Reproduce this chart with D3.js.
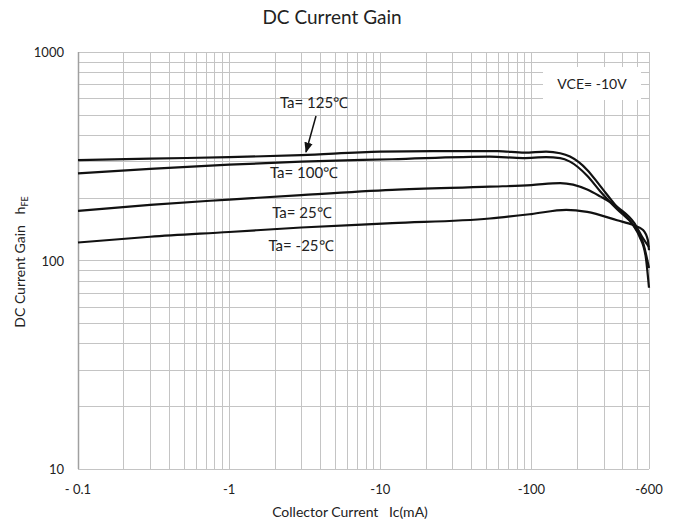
<!DOCTYPE html>
<html>
<head>
<meta charset="utf-8" />
<title>DC Current Gain</title>
<style>
  body { margin: 0; background: #fff; }
  text { font-family: Lato, "Open Sans", sans-serif; fill: #222; }
</style>
</head>
<body>
<script src="https://d3js.org/d3.v7.min.js"></script>
<script>
// collector current |Ic| in mA, and hFE read for each temperature
var ic125  = [0.1, 0.3, 1, 3, 10, 30, 60, 90, 125, 155, 180, 234, 285, 369, 471, 520, 570, 600];
var hfe125 = [303, 308, 313, 320, 333, 335, 335, 329, 333, 327, 315, 272, 228, 180, 148, 130, 105, 74];

var ic100  = [0.1, 0.3, 1, 3, 12, 53, 88, 125, 155, 180, 234, 285, 369, 471, 548, 600];
var hfe100 = [262, 275, 288, 298, 306, 315, 310, 313, 310, 298, 255, 215, 176, 148, 122, 92];

var ic25   = [0.1, 0.3, 1, 3, 12, 53, 100, 155, 234, 285, 380, 480, 540, 600];
var hfe25  = [173, 185, 196, 206, 218, 226, 230, 235, 219, 203, 178, 151, 130, 116];

var icM25  = [0.1, 0.3, 1, 3, 12, 53, 100, 170, 234, 369, 471, 548, 590, 600];
var hfeM25 = [122, 130, 137, 144, 151, 159, 167, 175, 171, 156, 148, 140, 125, 112];

var xTicks = [0.1, 1, 10, 100, 600];
var xTickLabels = ["- 0.1", "-1", "-10", "-100", "-600"];
var yTicks = [10, 100, 1000];

var series = [
  {name: "Ta= 125℃", ic: ic125, hfe: hfe125},
  {name: "Ta= 100℃", ic: ic100, hfe: hfe100},
  {name: "Ta= 25℃",  ic: ic25,  hfe: hfe25},
  {name: "Ta= -25℃", ic: icM25, hfe: hfeM25}
];

var width = 680, height = 519;
var margin = {left: 78, right: 31, top: 52, bottom: 50};

var svg = d3.select("body").append("svg")
  .attr("width", width)
  .attr("height", height);

var x = d3.scaleLog().domain([0.1, 600]).range([margin.left, width - margin.right]);
var y = d3.scaleLog().domain([10, 1000]).range([height - margin.bottom, margin.top]);

// grid lines: every 1..9 step of each decade
var xGrid = [];
[0.1, 1, 10, 100].forEach(function(d) {
  for (var k = 1; k <= 9; k++) { var v = d * k; if (v <= 600) xGrid.push(v); }
});
xGrid.push(600);
var yGrid = [];
[10, 100].forEach(function(d) {
  for (var k = 1; k <= 9; k++) yGrid.push(d * k);
});
yGrid.push(1000);

var grid = svg.append("g").attr("stroke", "#c4c4c4").attr("stroke-width", 1);
grid.selectAll("line.v").data(xGrid).enter().append("line")
  .attr("x1", d => Math.round(x(d)) + 0.5).attr("x2", d => Math.round(x(d)) + 0.5)
  .attr("y1", y(1000)).attr("y2", y(10));
grid.selectAll("line.h").data(yGrid).enter().append("line")
  .attr("y1", d => Math.round(y(d)) + 0.5).attr("y2", d => Math.round(y(d)) + 0.5)
  .attr("x1", x(0.1)).attr("x2", x(600));

// left axis line
svg.append("line")
  .attr("x1", x(0.1) + 0.5).attr("x2", x(0.1) + 0.5)
  .attr("y1", y(1000)).attr("y2", y(10))
  .attr("stroke", "#a0a0a0").attr("stroke-width", 1.5);

// VCE box (white fill over grid)
var vceBox = svg.append("g");
vceBox.append("rect")
  .attr("x", 543).attr("y", 67).attr("width", 98).attr("height", 33)
  .attr("fill", "#fff");
vceBox.append("text")
  .attr("x", 592).attr("y", 89)
  .attr("text-anchor", "middle")
  .style("font-size", "14px")
  .text("VCE= -10V");

// curves
var line = d3.line()
  .x(d => x(d[0]))
  .y(d => y(d[1]))
  .curve(d3.curveMonotoneX);

svg.append("g").selectAll("path").data(series).enter().append("path")
  .attr("d", s => line(s.ic.map((v, i) => [v, s.hfe[i]])))
  .attr("fill", "none")
  .attr("stroke", "#111")
  .attr("stroke-width", 2.2);

// temperature labels
var labelPos = [
  {x: 314, y: 108},
  {x: 304, y: 178},
  {x: 302, y: 218},
  {x: 301, y: 251}
];
var labels = svg.append("g");
series.forEach(function(s, i) {
  labels.append("text")
    .attr("x", labelPos[i].x).attr("y", labelPos[i].y)
    .attr("text-anchor", "middle")
    .style("font-size", "15px")
    .text(s.name);
});

// arrow to the 125 curve
svg.append("defs").append("marker")
  .attr("id", "arr").attr("viewBox", "0 0 10 10")
  .attr("refX", 9).attr("refY", 5)
  .attr("markerWidth", 7).attr("markerHeight", 7)
  .attr("orient", "auto")
  .append("path").attr("d", "M0,1 L10,5 L0,9 Z").attr("fill", "#111");
svg.append("line")
  .attr("x1", 316).attr("y1", 116)
  .attr("x2", 306).attr("y2", 152)
  .attr("stroke", "#111").attr("stroke-width", 1.5)
  .attr("marker-end", "url(#arr)");

// tick labels
svg.append("g").selectAll("text").data(yTicks).enter().append("text")
  .attr("x", 64).attr("y", d => y(d) + 5)
  .attr("text-anchor", "end")
  .style("font-size", "13px")
  .text(d => d);

svg.append("g").selectAll("text").data(xTicks).enter().append("text")
  .attr("x", d => x(d)).attr("y", 494)
  .attr("text-anchor", "middle")
  .style("font-size", "13px")
  .text((d, i) => xTickLabels[i]);

// titles
svg.append("text")
  .attr("x", 332).attr("y", 24)
  .attr("text-anchor", "middle")
  .style("font-size", "19px")
  .text("DC Current Gain");

svg.append("text")
  .attr("x", 350).attr("y", 517)
  .attr("text-anchor", "middle")
  .style("font-size", "14px")
  .attr("xml:space", "preserve")
  .text("Collector Current   Ic(mA)");

var yl = svg.append("text")
  .attr("transform", "translate(25,262) rotate(-90)")
  .attr("text-anchor", "middle")
  .style("font-size", "14px");
yl.append("tspan").attr("xml:space", "preserve").text("DC Current Gain   h");
yl.append("tspan").attr("dy", 3).style("font-size", "9px").text("FE");
</script>
</body>
</html>
